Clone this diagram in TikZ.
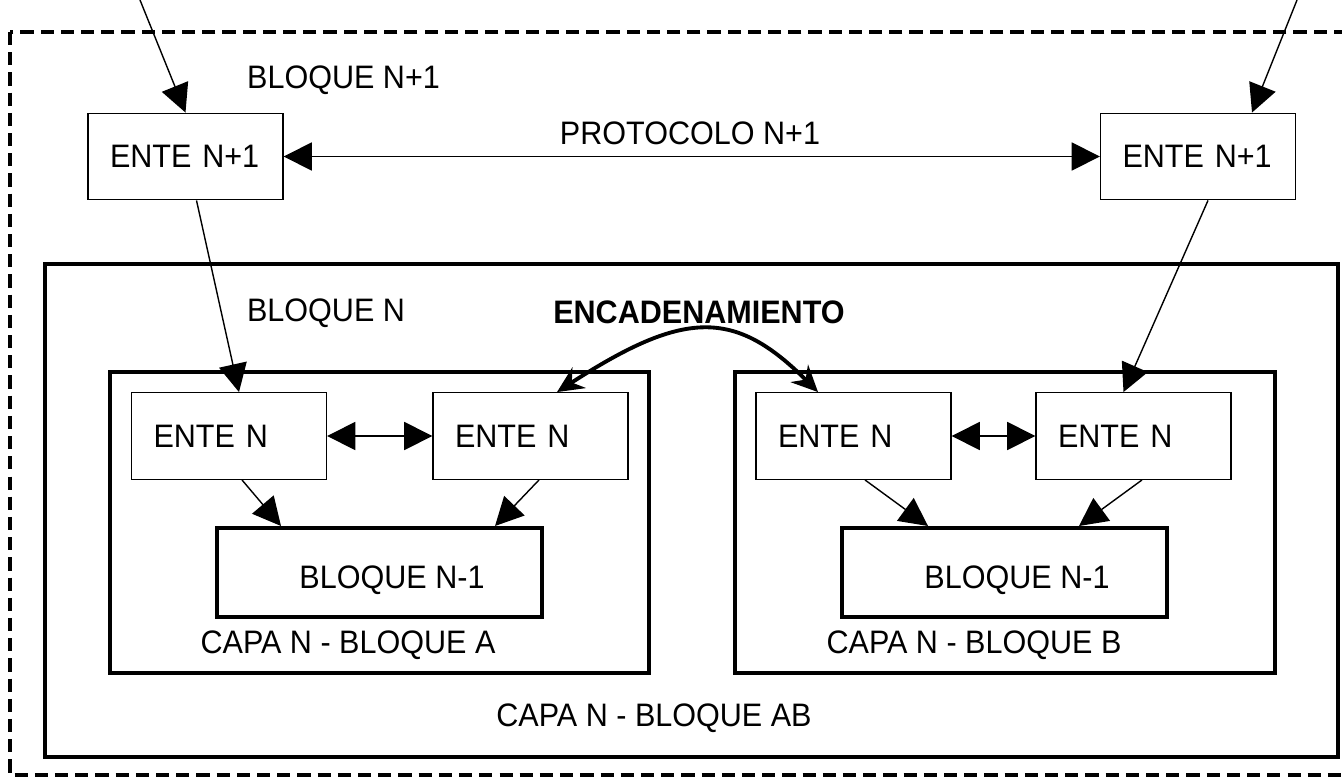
\documentclass[tikz,border=0pt]{standalone}
\usepackage{fontspec}
\setmainfont{Liberation Sans}[FakeStretch=0.94]
\usetikzlibrary{positioning,arrows.meta,calc}

\tikzset{
  ente/.style={draw, line width=0.8pt, minimum height=1.73cm, inner xsep=0.44cm,
    text width=3.02cm, align=left},
  bloque/.style={draw, line width=2.3pt, minimum width=6.5cm, minimum height=1.78cm},
  capa/.style={draw, line width=2.3pt},
  flecha/.style={line width=0.8pt, -{Triangle[length=16pt,width=16pt]}},
  dflecha/.style={line width=0.8pt, {Triangle[length=16pt,width=16pt]}-{Triangle[length=16pt,width=16pt]}},
  cadena/.style={line width=2.2pt, {Stealth[length=15pt,width=14pt,inset=5pt]}-{Stealth[length=15pt,width=14pt,inset=5pt]}}
}

\begin{document}
\begin{tikzpicture}[x=0.02cm, y=-0.02cm, font=\fontsize{18.5}{22}\selectfont]
  \useasboundingbox (0,0) rectangle (1342,782);

  % marcos de las capas
  \draw[line width=2.2pt, dash pattern=on 7.5pt off 4pt] (10,32) rectangle (1370,775);
  \draw[capa] (45,264) rectangle (1338,757);
  \draw[capa] (110,372) rectangle (649,673);
  \draw[capa] (735,372) rectangle (1275,673);

  % entes N+1
  \node[ente] (enteNA) at (185.5,156.5) {ENTE N+1};
  \node[ente] (enteNB) at (1198,156.5) {ENTE N+1};

  % entes N y bloques N-1
  \node[ente] (enA1) at (229,436) {ENTE N};
  \node[ente] (enA2) at (530.5,436) {ENTE N};
  \node[ente] (enB1) at (853.5,436) {ENTE N};
  \node[ente] (enB2) at (1133.5,436) {ENTE N};
  \node[bloque, label={[xshift=0.25cm,yshift=-0.15cm]center:BLOQUE N-1}] (subA) at (379.5,572.5) {};
  \node[bloque, label={[xshift=0.25cm,yshift=-0.15cm]center:BLOQUE N-1}] (subB) at (1004.5,572.5) {};

  % rotulos
  \node (lbN1) at (343.5,80) {BLOQUE N+1};
  \node (lbProt) at (690,133) {PROTOCOLO N+1};
  \node (lbN) at (326,313) {BLOQUE N};
  \node (lbEnc) at (699,312) {\textbf{ENCADENAMIENTO}};
  \node (lbA) at (348,645) {CAPA N - BLOQUE A};
  \node (lbB) at (974,645) {CAPA N - BLOQUE B};
  \node (lbAB) at (654,718) {CAPA N - BLOQUE AB};

  % conexiones
  \coordinate (inL) at (140,0);
  \coordinate (inR) at (1297,0);
  \draw[flecha] (inL) -- (enteNA.north);
  \draw[flecha] (inR) -- ($(enteNB.north)+(54,0)$);
  \draw[dflecha] (enteNA) -- (enteNB);
  \draw[flecha] ($(enteNA.south)+(11,0)$) -- ($(enA1.north)+(10,0)$);
  \draw[flecha] ($(enteNB.south)+(10,0)$) -- ($(enB2.north)+(-10,0)$);
  \draw[dflecha] (enA1) -- (enA2);
  \draw[dflecha] (enB1) -- (enB2);
  \draw[flecha] ($(enA1.south)+(13,0)$) -- ($(subA.north west)+(66,0)$);
  \draw[flecha] ($(enA2.south)+(8.5,0)$) -- ($(subA.north west)+(280,0)$);
  \draw[flecha] ($(enB1.south)+(11.5,0)$) -- ($(subB.north west)+(88,0)$);
  \draw[flecha] ($(enB2.south)+(8.5,0)$) -- ($(subB.north west)+(239,0)$);
  \draw[cadena] ($(enA2.north)+(26.5,0)$) .. controls +(128,-83) and +(-83,-83) .. ($(enB1.north)+(-35.5,0)$);
\end{tikzpicture}
\end{document}
